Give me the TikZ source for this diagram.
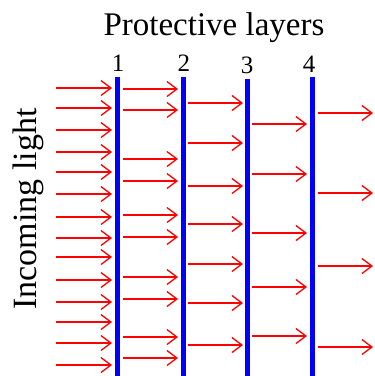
\documentclass[tikz,border=0pt]{standalone}
\usepackage{fontspec}
\setmainfont{Liberation Serif}
\usetikzlibrary{arrows.meta}
\begin{document}
\begin{tikzpicture}[x=1pt,y=-1pt,
  ray/.style={draw={rgb,255:red,255;green,0;blue,0}, line width=1.3pt,
    -{Straight Barb[length=10pt,width=15pt,line width=1.3pt]}},
  layer/.style={draw={rgb,255:red,0;green,0;blue,255}, line width=5pt},
  lbl/.style={inner sep=0pt, font=\fontsize{25}{28}\selectfont}]
\useasboundingbox (0,0) rectangle (375,376);
% title and labels
\node[inner sep=0pt, font=\fontsize{33}{36}\selectfont] (title) at (214,28) {Protective layers};
\node[inner sep=0pt, rotate=90, font=\fontsize{34}{36}\selectfont] (inc) at (28,209) {Incoming light};
\node[lbl] (n1) at (118,63) {1};
\node[lbl] (n2) at (184,63) {2};
\node[lbl] (n3) at (247,65) {3};
\node[lbl] (n4) at (309,64) {4};
% layers
\draw[layer] (117,77) -- (117,376);
\draw[layer] (183,77) -- (183,376);
\draw[layer] (247,79) -- (247,376);
\draw[layer] (312,77) -- (312,376);
% rays
\foreach \y in {88,108,130,152,172,194,217,238,257,280,302,322,343,365}
  \draw[ray] (56,\y) -- (112,\y);
\foreach \y in {89,110,159,181,215,237,277,299,337,358}
  \draw[ray] (123,\y) -- (178,\y);
\foreach \y in {103,143,186,224,264,303,345}
  \draw[ray] (188,\y) -- (243,\y);
\foreach \y in {124,174,233,287,336}
  \draw[ray] (252,\y) -- (307,\y);
\foreach \y in {113,193,266,347}
  \draw[ray] (318,\y) -- (373,\y);
\end{tikzpicture}
\end{document}
